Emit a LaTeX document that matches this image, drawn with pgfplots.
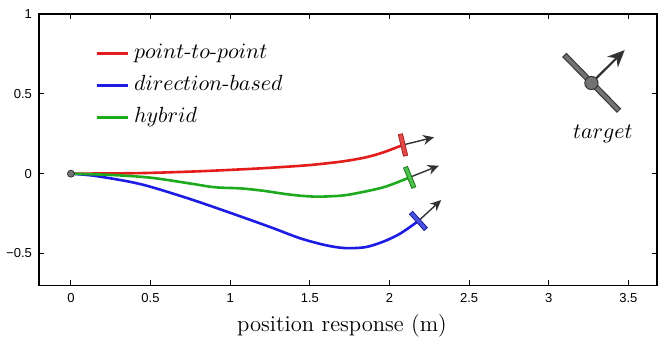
\documentclass[border=0pt]{standalone}
\usepackage{fontspec}
\setsansfont{Liberation Sans}
\usepackage{pgfplots}
\pgfplotsset{compat=1.18}
\usetikzlibrary{arrows.meta}
\definecolor{cred}{RGB}{228,28,28}
\definecolor{cblue}{RGB}{28,28,228}
\definecolor{cgreen}{RGB}{30,170,30}
\definecolor{fred}{RGB}{225,75,75}
\definecolor{dred}{RGB}{170,30,30}
\definecolor{fblue}{RGB}{70,80,225}
\definecolor{dblue}{RGB}{30,30,150}
\definecolor{fgreen}{RGB}{75,195,75}
\definecolor{dgreen}{RGB}{30,120,30}
\definecolor{tgray}{RGB}{115,115,115}
\definecolor{tdark}{RGB}{55,55,55}
\definecolor{adark}{RGB}{50,50,50}
\begin{document}
\begin{tikzpicture}
\begin{axis}[
  name=ax,
  scale only axis,
  width=308.5pt, height=135.5pt,
  xmin=-0.2, xmax=3.68, ymin=-0.7, ymax=1,
  axis line style={line width=0.9pt},
  tick style={line width=0.5pt, black},
  tick align=inside, tick pos=both,
  major tick length=2.5pt,
  xtick={0,0.5,1,1.5,2,2.5,3,3.5},
  xticklabels={0,0.5,1,1.5,2,2.5,3,3.5},
  ytick={-0.5,0,0.5,1},
  yticklabels={−0.5,0,0.5,1},
  xticklabel pos=lower, yticklabel pos=left,
  tick label style={font=\sffamily\fontsize{6.5}{7}\selectfont},
  xticklabel style={anchor=base, yshift=-8.5pt},
  xlabel={position response (m)},
  xlabel style={font=\fontsize{11.3}{13}\selectfont, at={(rel axis cs:0.5,0)}, anchor=base, yshift=-22.9pt, xshift=-3pt},
  legend cell align=left,
  legend image code/.code={\draw[#1] (0pt,0pt) -- (15.5pt,0pt);},
  legend style={draw=none, fill=none, at={(axis cs:0.151,0.825)}, anchor=north west,
    inner sep=0pt, row sep=5pt, column sep=2.5pt,
    nodes={inner sep=0pt, text height=8pt, text depth=3pt},
    font=\fontsize{10.6}{12}\selectfont},
  clip=false,
]
\addplot[cred, line width=1.3pt, smooth] coordinates {
(0,0)(0.3,0.002)(0.5,0.005)(0.75,0.013)(0.877,0.018)(1.128,0.03)(1.3,0.04)(1.5,0.054)(1.7,0.076)(1.85,0.102)(1.963,0.134)(2.085,0.18)};
\addlegendentry{$point$-$to$-$point$}
\addplot[cblue, line width=1.3pt, smooth] coordinates {
(0,0)(0.146,-0.013)(0.355,-0.048)(0.5,-0.082)(0.752,-0.16)(1.0,-0.245)(1.253,-0.335)(1.44,-0.405)(1.6,-0.448)(1.72,-0.466)(1.85,-0.46)(1.963,-0.425)(2.068,-0.375)(2.182,-0.296)};
\addlegendentry{$direction$-$based$}
\addplot[cgreen, line width=1.3pt, smooth] coordinates {
(0,0)(0.25,-0.008)(0.5,-0.025)(0.752,-0.062)(0.877,-0.082)(0.95,-0.088)(1.065,-0.092)(1.2,-0.106)(1.337,-0.126)(1.44,-0.138)(1.546,-0.144)(1.66,-0.14)(1.754,-0.13)(1.963,-0.085)(2.127,-0.023)};
\addlegendentry{$hybrid$}
% start point
\addplot[forget plot, only marks, mark=*, mark size=1.75pt, mark options={fill=tgray, draw=tdark, line width=0.4pt}] coordinates {(0,0)};
% heading arrows
\addplot[forget plot, adark, line width=0.7pt, -{Stealth[length=5.5pt,width=5pt]}] coordinates {(2.085,0.18)(2.28,0.228)};
\addplot[forget plot, adark, line width=0.7pt, -{Stealth[length=5.5pt,width=5pt]}] coordinates {(2.127,-0.023)(2.31,0.05)};
\addplot[forget plot, adark, line width=0.7pt, -{Stealth[length=5.5pt,width=5pt]}] coordinates {(2.182,-0.296)(2.325,-0.165)};
% end markers
\addplot[forget plot, fill=fred, draw=dred, line width=0.4pt] coordinates {(2.0821,0.2502)(2.0559,0.2440)(2.0879,0.1098)(2.1141,0.1160)} -- cycle;
\addplot[forget plot, fill=fgreen, draw=dgreen, line width=0.4pt] coordinates {(2.1136,0.0461)(2.0886,0.0359)(2.1404,-0.0921)(2.1654,-0.0819)} -- cycle;
\addplot[forget plot, fill=fblue, draw=dblue, line width=0.4pt] coordinates {(2.1458,-0.2357)(2.1258,-0.2537)(2.2182,-0.3563)(2.2382,-0.3383)} -- cycle;
% target
\addplot[forget plot, fill=tgray, draw=tdark, line width=0.5pt] coordinates {(3.111,0.753)(3.451,0.407)(3.429,0.385)(3.089,0.731)} -- cycle;
\addplot[forget plot, adark, line width=1.1pt, -{Stealth[length=8.5pt,width=7.5pt]}] coordinates {(3.268,0.568)(3.477,0.774)};
\addplot[forget plot, only marks, mark=*, mark size=3.3pt, mark options={fill=tgray, draw=tdark, line width=0.5pt}] coordinates {(3.268,0.568)};
\node[font=\fontsize{10.7}{12}\selectfont] at (axis cs:3.34,0.25) {$target$};
\end{axis}
\pgfresetboundingbox
\path[use as bounding box] ([shift={(-19.5pt,-26.5pt)}]ax.south west) rectangle ([shift={(0.5pt,7pt)}]ax.north east);
\end{tikzpicture}
\end{document}
